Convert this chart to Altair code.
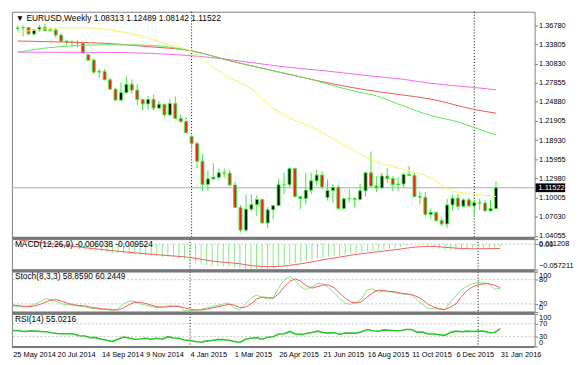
import altair as alt
import pandas as pd

# ---------------- data ----------------
opens = [1.3630,1.3635,1.3642,1.3542,1.3605,1.3645,1.3595,1.3605,1.3525,1.3430,
         1.3415,1.3410,1.3400,1.3220,1.3135,1.2950,1.2960,1.2830,1.2685,1.2515,
         1.2630,1.2760,1.2670,1.2525,1.2455,1.2525,1.2390,1.2450,1.2285,1.2460,
         1.2230,1.2180,1.1950,1.1840,1.1565,1.1205,1.1290,1.1315,1.1385,1.1380,
         1.1195,1.0845,1.0495,1.0820,1.0890,1.0970,1.0605,1.0810,1.0875,1.1200,
         1.1200,1.1450,1.1015,1.0985,1.1115,1.1260,1.1350,1.1000,1.1110,1.1160,
         1.0830,1.0980,1.0985,1.0970,1.1105,1.1385,1.1180,1.1150,1.1335,1.1295,
         1.1200,1.1210,1.1360,1.1345,1.1015,1.1005,1.0740,1.0770,1.0645,1.0590,
         1.0885,1.0990,1.0865,1.0965,1.0870,1.0920,1.0915,1.0795,1.08313]
highs = [1.3670,1.3677,1.3650,1.3615,1.3680,1.3700,1.3650,1.3630,1.3545,1.3445,
         1.3445,1.3445,1.3405,1.3225,1.3165,1.2995,1.3000,1.2865,1.2700,1.2790,
         1.2885,1.2835,1.2770,1.2535,1.2575,1.2600,1.2500,1.2460,1.2530,1.2570,
         1.2290,1.2250,1.1970,1.1870,1.1680,1.1420,1.1535,1.1450,1.1450,1.1430,
         1.1245,1.0885,1.1045,1.1050,1.1035,1.0985,1.0850,1.0880,1.1290,1.1390,
         1.1465,1.1465,1.1020,1.1385,1.1385,1.1435,1.1410,1.1280,1.1215,1.1200,
         1.1000,1.1130,1.1000,1.1215,1.1390,1.1715,1.1330,1.1385,1.1460,1.1330,
         1.1320,1.1385,1.1495,1.1390,1.1095,1.1090,1.0830,1.0775,1.0690,1.0980,
         1.1045,1.1060,1.0990,1.0990,1.0970,1.0985,1.0960,1.0960,1.12489]
lows = [1.3585,1.3503,1.3525,1.3520,1.3575,1.3590,1.3580,1.3480,1.3420,1.3365,
        1.3335,1.3335,1.3240,1.3130,1.2920,1.2860,1.2825,1.2680,1.2500,1.2500,
        1.2615,1.2615,1.2440,1.2355,1.2360,1.2360,1.2385,1.2245,1.2260,1.2220,
        1.2165,1.2000,1.1755,1.1460,1.1100,1.1100,1.1270,1.1270,1.1305,1.1175,
        1.0840,1.0460,1.0460,1.0785,1.0715,1.0600,1.0520,1.0660,1.0870,1.1050,
        1.1160,1.1000,1.0820,1.0890,1.1050,1.1190,1.1135,1.0955,1.0915,1.0810,
        1.0810,1.0925,1.0850,1.0960,1.1015,1.1155,1.1085,1.1150,1.1230,1.1105,
        1.1105,1.1160,1.1330,1.1005,1.0895,1.0705,1.0675,1.0620,1.0560,1.0525,
        1.0800,1.0805,1.0850,1.0860,1.0710,1.0805,1.0780,1.0775,1.08142]
closes = [1.3635,1.3642,1.3542,1.3605,1.3645,1.3595,1.3605,1.3525,1.3430,1.3415,
          1.3410,1.3400,1.3245,1.3135,1.2950,1.2960,1.2830,1.2685,1.2515,1.2630,
          1.2760,1.2670,1.2525,1.2455,1.2525,1.2390,1.2450,1.2285,1.2460,1.2230,
          1.2180,1.2005,1.1840,1.1565,1.1205,1.1290,1.1315,1.1385,1.1380,1.1195,
          1.0845,1.0495,1.0820,1.0890,1.0970,1.0605,1.0810,1.0875,1.1200,1.1200,
          1.1450,1.1015,1.0985,1.1115,1.1260,1.1350,1.1165,1.1110,1.1160,1.0830,
          1.0980,1.0985,1.0970,1.1105,1.1385,1.1180,1.1150,1.1335,1.1295,1.1200,
          1.1210,1.1360,1.1345,1.1015,1.1005,1.0740,1.0770,1.0645,1.0590,1.0885,
          1.0990,1.0865,1.0965,1.0870,1.0920,1.0915,1.0795,1.0830,1.11522]

date_labels = ["25 May 2014", "20 Jul 2014", "14 Sep 2014", "9 Nov 2014", "4 Jan 2015",
               "1 Mar 2015", "26 Apr 2015", "21 Jun 2015", "16 Aug 2015", "11 Oct 2015",
               "6 Dec 2015", "31 Jan 2016"]
date_label_weeks = [0, 8, 16, 24, 32, 40, 48, 56, 64, 72, 80, 88]
year_start_weeks = [32, 84]

price_ticks = [1.04055, 1.07030, 1.10005, 1.12980, 1.15955, 1.18930,
               1.21905, 1.24880, 1.27855, 1.30830, 1.33805, 1.36780]

ma_yellow_w = [0, 4, 7, 13, 18, 22, 28, 32, 34, 39, 43, 47, 51, 54, 60, 65, 70, 76, 80, 84, 88]
ma_yellow_v = [1.3566, 1.3612, 1.3635, 1.3638, 1.3592, 1.3525, 1.3372, 1.3271, 1.3143, 1.2863,
               1.2690, 1.2389, 1.2201, 1.2098, 1.1818, 1.1589, 1.1460, 1.1307, 1.1104, 1.1053, 1.1017]
ma_green_w = [0, 5, 10, 16, 22, 28, 32, 39, 46, 54, 60, 64, 66, 70, 76, 81, 84, 88]
ma_green_v = [1.3256, 1.3322, 1.3357, 1.3375, 1.3372, 1.3337, 1.3280, 1.3127, 1.2990, 1.2837,
              1.2694, 1.2618, 1.2580, 1.2454, 1.2274, 1.2175, 1.2087, 1.1971]
ma_red_w = [0, 8, 16, 24, 32, 39, 46, 54, 64, 70, 76, 84, 88]
ma_red_v = [1.3433, 1.3418, 1.3398, 1.3345, 1.3280, 1.3127, 1.2990, 1.2837, 1.2675, 1.2603,
            1.2531, 1.2369, 1.2312]
ma_magenta_w = [0, 16, 32, 39, 48, 57, 64, 71, 76, 84, 88]
ma_magenta_v = [1.3260, 1.3256, 1.3204, 1.3143, 1.3042, 1.2965, 1.2898, 1.2837, 1.2776, 1.2710, 1.2675]

macd_main = [0.0010,-0.0005,-0.0020,-0.0030,-0.0035,-0.0042,-0.0048,-0.0058,-0.0070,-0.0082,
             -0.0092,-0.0100,-0.0112,-0.0125,-0.0142,-0.0152,-0.0165,-0.0182,-0.0202,-0.0210,
             -0.0212,-0.0218,-0.0232,-0.0244,-0.0250,-0.0260,-0.0268,-0.0280,-0.0285,-0.0297,
             -0.0315,-0.0340,-0.0385,-0.0425,-0.0460,-0.0480,-0.0490,-0.0492,-0.0492,-0.0500,
             -0.0525,-0.0555,-0.0568,-0.0572,-0.0562,-0.0565,-0.0555,-0.0540,-0.0505,-0.0480,
             -0.0445,-0.0425,-0.0400,-0.0375,-0.0350,-0.0320,-0.0300,-0.0285,-0.0270,-0.0260,
             -0.0240,-0.0225,-0.0205,-0.0190,-0.0165,-0.0150,-0.0140,-0.0120,-0.0100,-0.0080,
             -0.0060,-0.0035,-0.0012,-0.0008,-0.0012,-0.0030,-0.0065,-0.0100,-0.0125,-0.0130,
             -0.0125,-0.0120,-0.0115,-0.0110,-0.0100,-0.0093,-0.0092,-0.0090,-0.006038]
macd_signal = [0.011208,0.0096,0.0080,0.0064,0.0049,0.0035,0.0021,0.0008,-0.0006,-0.0020,
               -0.0035,-0.0050,-0.0065,-0.0080,-0.0094,-0.0107,-0.0120,-0.0133,-0.0147,-0.0160,
               -0.0172,-0.0183,-0.0195,-0.0206,-0.0217,-0.0227,-0.0237,-0.0247,-0.0256,-0.0265,
               -0.0275,-0.0287,-0.0300,-0.0318,-0.0340,-0.0360,-0.0378,-0.0393,-0.0405,-0.0415,
               -0.0427,-0.0440,-0.0462,-0.0480,-0.0493,-0.0501,-0.0505,-0.0505,-0.0500,-0.0490,
               -0.0475,-0.0458,-0.0440,-0.0420,-0.0400,-0.0375,-0.0350,-0.0330,-0.0310,-0.0290,
               -0.0270,-0.0250,-0.0230,-0.0215,-0.0200,-0.0185,-0.0170,-0.0155,-0.0140,-0.0125,
               -0.0110,-0.0092,-0.0075,-0.0063,-0.0055,-0.0050,-0.0052,-0.0060,-0.0070,-0.0080,
               -0.0090,-0.0097,-0.0102,-0.0105,-0.0105,-0.0103,-0.0101,-0.0099,-0.009524]

stoch_k = [15,14,12,15,19,26,33,30,25,20, 18,17,14,13,9,8,6,6,4,8,
           20,27,26,20,17,13,11,12,15,15, 14,3,3,4,7,10,13,16,20,22,
           10,5,20,34,42,36,32,35,60,80, 88,78,62,55,62,71,70,60,48,33,
           22,19,24,33,55,57,49,52,50,47, 45,44,42,30,18,9,8,7,5,25,
           40,55,64,70,73,72,69,56,58.859]
stoch_d = [17,16,14,13,15,19,25,30,30,26, 21,18,16,15,12,10,8,7,5,5,
           10,18,24,24,21,17,13,12,13,14, 14,10,7,5,5,7,10,13,16,19,
           17,11,12,20,32,37,36,34,45,62, 76,82,76,65,59,63,67,67,60,47,
           34,25,22,26,37,48,54,53,51,50, 47,45,43,38,30,19,12,8,6,12,
           20,38,53,62,67,70,70,66,60.2449]
rsi = [49,48,46,47,47,46,45,42,40,39, 39,38,33,32,27,27,22,19,15,22,
       29,26,22,23,25,22,25,22,30,26, 25,20,18,15,13,17,18,21,21,19,
       15,12,22,25,27,22,28,30,38,39, 46,38,37,40,43,47,43,41,43,37,
       41,41,41,45,52,48,47,51,50,48, 48,52,52,44,44,38,38,36,34,43,
       47,45,47,46,47,47,42,43,55.0216]

macd_levels = [0.0]
stoch_levels = [20, 80]
rsi_levels = [30, 70]

# ---------------- styling ----------------
W = 531
HM, H1, H2, H3 = 229, 31, 41, 33
FONT = "Liberation Sans"
FS = 7.5
FS_LBL = 8.5
BORDER = "#808080"
SEP = "#787878"
LIME = "#3ee83e"
LEVEL = "#c4c4c4"

n = len(closes)
wk = list(range(n))
cdf = pd.DataFrame({"w": wk, "o": opens, "h": highs, "l": lows, "c": closes})
cdf["dir"] = ["up" if c >= o else "down" for o, c in zip(opens, closes)]
last = closes[-1]

xscale = alt.Scale(domain=[-0.15, 94.2], nice=False, zero=False)


def X(axis=None):
    return alt.X("w:Q", scale=xscale, axis=axis)


def Y(field, scale, axis=None):
    return alt.Y(field, scale=scale, axis=axis)


def right_axis(values, **kw):
    return alt.Axis(orient="right", values=values, title=None, domain=False, ticks=True,
                    tickSize=3, tickColor=BORDER, labelPadding=1, labelFont=FONT,
                    labelFontSize=FS, labelColor="black", grid=False, labelOverlap=False,
                    labelBound=False, **kw)


def label_text(txt, x, y):
    return alt.Chart(pd.DataFrame({"t": [txt]})).mark_text(
        align="left", baseline="middle", font=FONT, fontSize=FS_LBL, color="black"
    ).encode(x=alt.value(x), y=alt.value(y), text="t:N")


def year_lines():
    return alt.Chart(pd.DataFrame({"w": year_start_weeks})).mark_rule(
        color="black", strokeDash=[1, 2], strokeWidth=1).encode(x=X())


def sep_rule(y, width=3):
    return alt.Chart(pd.DataFrame({"k": [0]})).mark_rule(color=SEP, strokeWidth=width).encode(
        x=alt.value(0), x2=alt.value(W), y=alt.value(y))


def levels(vals, scale):
    return alt.Chart(pd.DataFrame({"v": vals})).mark_rule(
        color=LEVEL, strokeDash=[2, 2], strokeWidth=1).encode(y=Y("v:Q", scale))


def panel(layers, h):
    return alt.layer(*layers).resolve_axis(x="independent", y="independent").properties(
        width=W, height=h)


# ---------------- main price panel ----------------
ysc = alt.Scale(domain=[1.03849, 1.38875], nice=False, zero=False)
pl_df = pd.DataFrame({"p": [last]})

price_line = alt.Chart(pl_df).mark_rule(color="#a3adbb", strokeWidth=1).encode(y=Y("p:Q", ysc))
wicks = alt.Chart(cdf).mark_rule(color=LIME, strokeWidth=1).encode(
    x=X(), y=Y("l:Q", ysc, right_axis(price_ticks, format=".5f")), y2="h:Q")
bodies = alt.Chart(cdf).mark_bar(size=3, stroke=LIME, strokeWidth=1, orient="vertical").encode(
    x=X(), y=Y("o:Q", ysc), y2="c:Q",
    fill=alt.Fill("dir:N", scale=alt.Scale(domain=["up", "down"], range=["#000000", "#ff1a1a"]),
                  legend=None))


def ma(ws, vs, color):
    return alt.Chart(pd.DataFrame({"w": ws, "v": vs})).mark_line(
        color=color, strokeWidth=1, interpolate="monotone").encode(x=X(), y=Y("v:Q", ysc))


header = "\u25BC EURUSD,Weekly  %.5f %.5f %.5f %.5f" % (opens[-1], highs[-1], lows[-1], closes[-1])

box = alt.Chart(pl_df).transform_calculate(lo="datum.p - 0.0068", hi="datum.p + 0.0068").mark_rect(
    color="black").encode(x=alt.value(W + 1), x2=alt.value(W + 31), y=Y("lo:Q", ysc), y2="hi:Q")
box_t = alt.Chart(pl_df).mark_text(align="left", baseline="middle", font=FONT, fontSize=FS,
                                   color="white").encode(
    x=alt.value(W + 4), y=Y("p:Q", ysc), text=alt.Text("p:Q", format=".5f"))

main = panel([
    price_line, year_lines(), wicks, bodies,
    ma(ma_magenta_w, ma_magenta_v, "#f266f2"),
    ma(ma_red_w, ma_red_v, "#f25555"),
    ma(ma_green_w, ma_green_v, "#5ee65e"),
    ma(ma_yellow_w, ma_yellow_v, "#f4f45a"),
    label_text(header, 4, 6), box, box_t,
], HM)

# ---------------- MACD panel ----------------
mdf = pd.DataFrame({"w": wk, "m": macd_main, "s": macd_signal, "z": [0.0] * n})
ysc_m = alt.Scale(domain=[-0.057211, 0.011208], nice=False, zero=False)
hist = alt.Chart(mdf).mark_rule(color="#88e888", strokeWidth=1).encode(
    x=X(), y=Y("m:Q", ysc_m, right_axis(
        [-0.057211, 0, 0.011208], labelFlush=True,
        labelExpr="datum.value == 0 ? '0.00' : format(datum.value, '.6f')")), y2="z:Q")
sig = alt.Chart(mdf).mark_line(color="#f25a5a", strokeWidth=1).encode(x=X(), y=Y("s:Q", ysc_m))
macd_p = panel([
    levels(macd_levels, ysc_m), year_lines(), hist, sig,
    label_text("MACD(12,26,9) %.6f %.6f" % (macd_main[-1], macd_signal[-1]), 3, 4.5),
    sep_rule(-1),
], H1)

# ---------------- Stochastic panel ----------------
sdf = pd.DataFrame({"w": wk, "k": stoch_k, "d": stoch_d})
ysc_s = alt.Scale(domain=[0, 100], nice=False, zero=False)
sk = alt.Chart(sdf).mark_line(color="#7ee87e", strokeWidth=1).encode(
    x=X(), y=Y("k:Q", ysc_s, right_axis([0, 20, 80, 100], labelFlush=True)))
sd = alt.Chart(sdf).mark_line(color="#f25a5a", strokeWidth=1).encode(x=X(), y=Y("d:Q", ysc_s))
stoch_p = panel([
    levels(stoch_levels, ysc_s), year_lines(), sk, sd,
    label_text("Stoch(8,3,3) %.4f %.4f" % (stoch_k[-1], stoch_d[-1]), 3, 4.7),
    sep_rule(-1),
], H2)

# ---------------- RSI panel ----------------
rdf = pd.DataFrame({"w": wk, "r": rsi})
ysc_r = alt.Scale(domain=[0, 100], nice=False, zero=False)
lbl_js = "[" + ",".join("'%s'" % s for s in date_labels) + "][round(datum.value / 8)]"
x_axis = alt.Axis(values=date_label_weeks, labelExpr=lbl_js, labelAlign="left", labelFlush=False,
                  labelFont=FONT, labelFontSize=FS, labelColor="black", ticks=False, domain=False,
                  grid=False, labelPadding=4, title=None, labelOverlap=False)
rl = alt.Chart(rdf).mark_line(color="#2fc42f", strokeWidth=1.6).encode(
    x=X(x_axis), y=Y("r:Q", ysc_r, right_axis([0, 30, 70, 100], labelFlush=True)))
rsi_p = panel([
    levels(rsi_levels, ysc_r), year_lines(), rl,
    label_text("RSI(14) %.4f" % rsi[-1], 3, 5),
    sep_rule(-1), sep_rule(H3 + 0.5, 2),
], H3)

chart = alt.vconcat(main, macd_p, stoch_p, rsi_p, spacing=2, bounds="flush").properties(
    padding={"left": 1, "top": 0, "right": 0, "bottom": 0}, background="white"
).configure_view(stroke=BORDER, strokeWidth=1).configure_axis(labelOverlap=False)

chart.save("out.html", embed_options={"renderer": "svg", "actions": False})
